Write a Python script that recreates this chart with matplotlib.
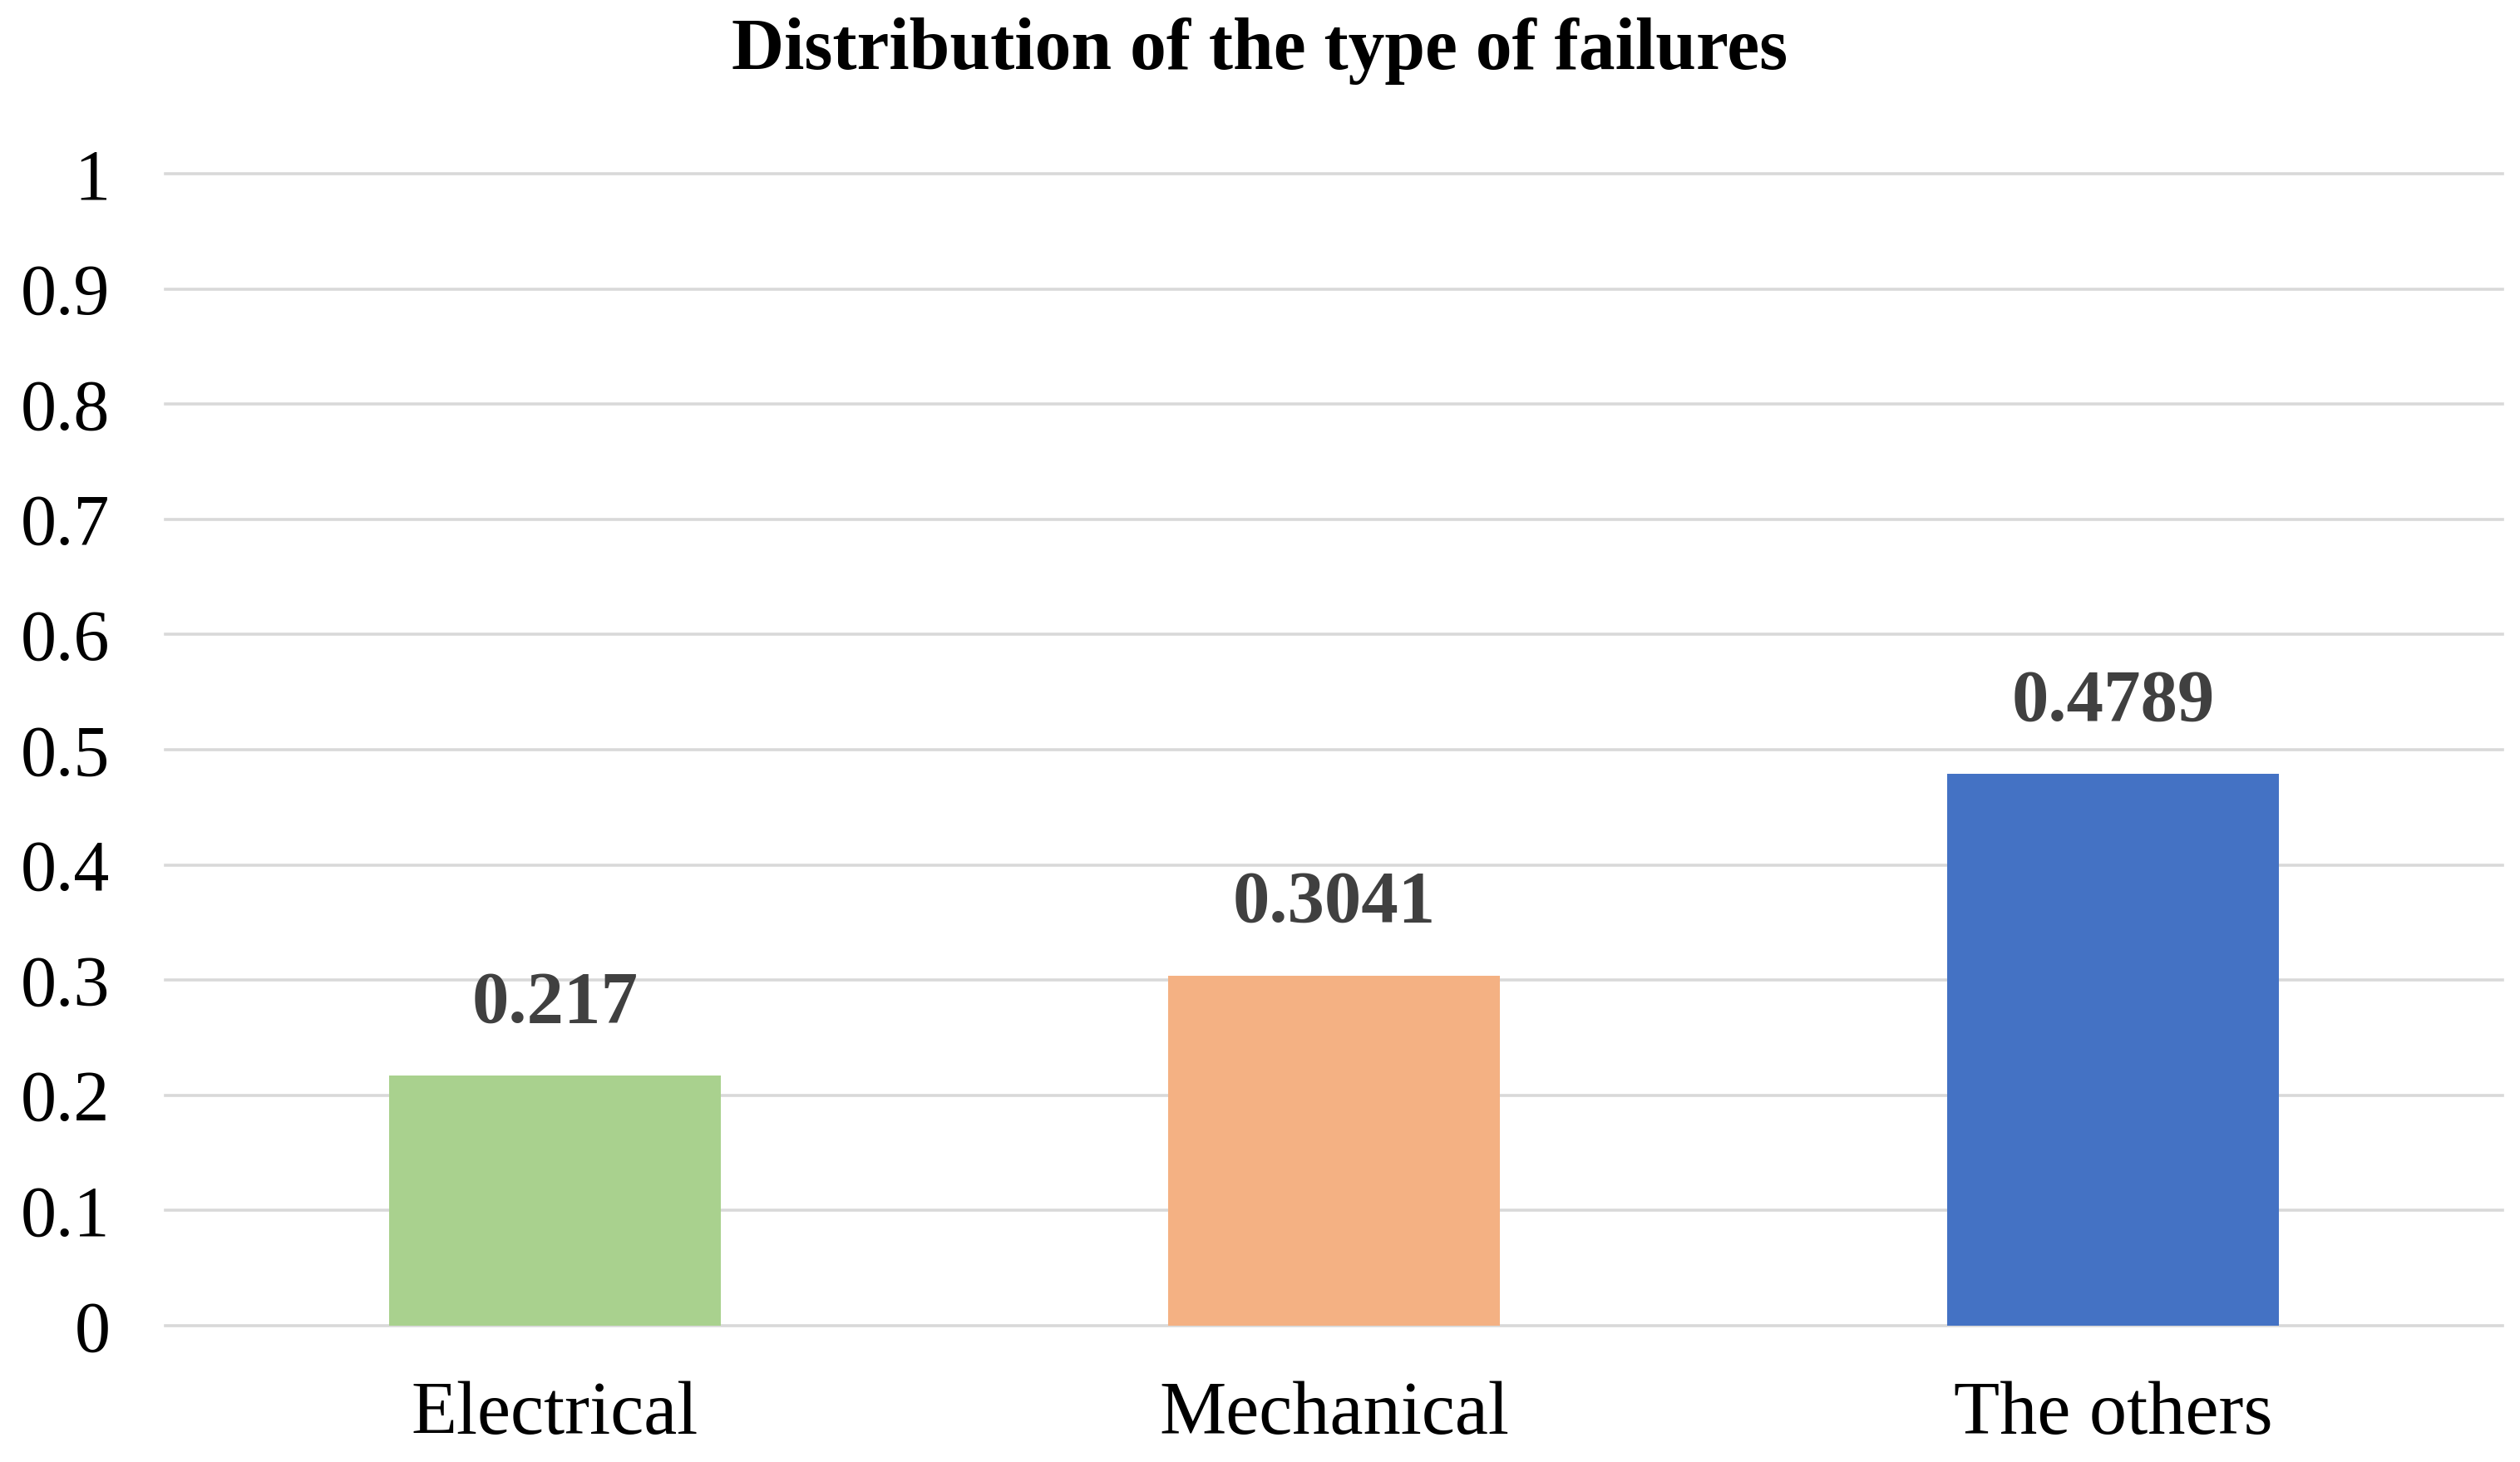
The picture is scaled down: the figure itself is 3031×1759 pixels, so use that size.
import matplotlib
matplotlib.use("Agg")
import matplotlib.pyplot as plt

categories = ["Electrical", "Mechanical", "The others"]
values = [0.217, 0.3041, 0.4789]
value_labels = ["0.217", "0.3041", "0.4789"]
colors = ["#A9D18E", "#F4B183", "#4472C4"]
yticks = [0, 0.1, 0.2, 0.3, 0.4, 0.5, 0.6, 0.7, 0.8, 0.9, 1]
ytick_labels = ["0", "0.1", "0.2", "0.3", "0.4", "0.5", "0.6", "0.7", "0.8", "0.9", "1"]

plt.rcParams['font.family'] = ['Liberation Serif', 'DejaVu Serif']

W, H, DPI = 3031, 1759, 100
fig = plt.figure(figsize=(W / DPI, H / DPI), dpi=DPI)
ax = fig.add_axes([199 / W, 1 - 1595 / H, (3010 - 199) / W, (1595 - 209) / H])

x = list(range(len(categories)))
ax.bar(x, values, width=0.425, color=colors, zorder=3)

ax.set_xlim(-0.5, len(categories) - 0.5)
ax.set_ylim(0, 1)
ax.set_yticks(yticks)
ax.set_yticklabels(ytick_labels)
ax.set_xticks(x)
ax.set_xticklabels(categories, fontsize=65)

for y in yticks:
    ax.axhline(y, color="#D9D9D9", lw=2.6, zorder=1, clip_on=False)

for s in ax.spines.values():
    s.set_visible(False)
ax.tick_params(axis='both', length=0, colors="black")
ax.tick_params(axis='y', pad=48, labelsize=62)
ax.tick_params(axis='x', pad=48)

for xi, v, lab in zip(x, values, value_labels):
    ax.annotate(lab, (xi, v), xytext=(0, 33), textcoords="offset points",
                ha="center", va="bottom", fontsize=64, fontweight="bold",
                color="#404040")

fig.text(0.5, 1 - 62 / H, "Distribution of the type of failures", ha="center",
         va="center", fontsize=63, fontweight="bold", color="black")

fig.savefig("out.png", dpi=DPI, facecolor="white")
